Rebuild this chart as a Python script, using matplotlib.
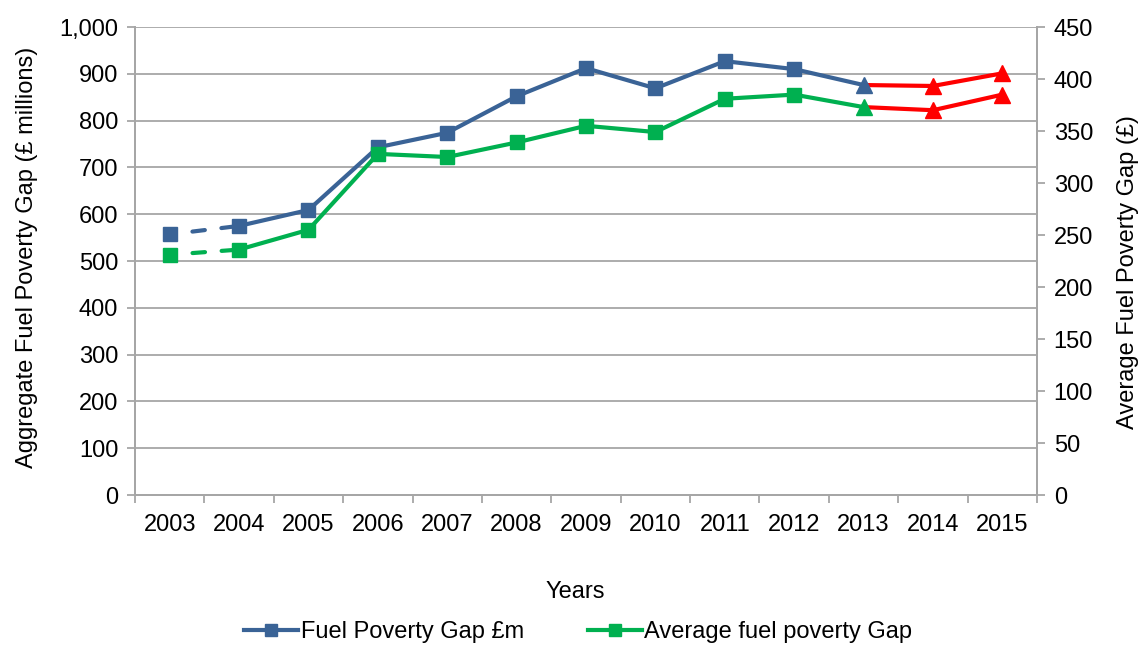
import numpy as np
import matplotlib.pyplot as plt
from matplotlib.lines import Line2D

plt.rcParams['font.family'] = ['Liberation Sans', 'DejaVu Sans']

years = ['2003', '2004', '2005', '2006', '2007', '2008', '2009',
         '2010', '2011', '2012', '2013', '2014', '2015']
# aggregate gap, £ millions (left axis)
gap_total = [557, 575, 609, 743, 774, 852, 912, 869, 927, 910, 876, 874, 901]
# average gap per household, £ (right axis)
gap_avg = [231, 236, 255, 328, 325, 339, 355, 349, 381, 385, 373, 370, 385]

BLUE = '#3A6396'
GREEN = '#00B050'
RED = '#FF0000'
GRID = '#A6A6A6'
FS = 17

x = np.arange(len(years))

fig = plt.figure(figsize=(11.45, 6.46), dpi=100)
ax = fig.add_axes([0.1179, 0.2337, 0.7878, 0.7245])
ax2 = ax.twinx()


def draw(a, vals, col):
    lw, ms = 3.0, 10
    # dashed start (2003-2004)
    a.plot(x[:2], vals[:2], color=col, lw=lw, ls=(1.5, (3, 4)),
           dash_capstyle='round', zorder=3)
    a.plot(x[1:11], vals[1:11], color=col, lw=lw, zorder=3)
    a.plot(x[:10], vals[:10], ls='none', marker='s', ms=ms, color=col, zorder=4)
    # projection years in red
    a.plot(x[10:], vals[10:], color=RED, lw=lw, zorder=3)
    a.plot(x[11:], vals[11:], ls='none', marker='^', ms=ms + 1, color=RED, zorder=4)
    a.plot(x[10:11], vals[10:11], ls='none', marker='^', ms=ms + 1, color=col, zorder=5)


draw(ax, gap_total, BLUE)
draw(ax2, gap_avg, GREEN)

ax.set_xlim(-0.5, len(years) - 0.5)
ax.set_ylim(0, 1000)
ax2.set_ylim(0, 450)
ax.set_yticks(np.arange(0, 1001, 100))
ax.set_yticklabels([f'{v:,}' for v in range(0, 1001, 100)])
ax2.set_yticks(np.arange(0, 451, 50))

ax.set_xticks(x)
ax.set_xticklabels(years)
ax.set_xticks(np.arange(-0.5, len(years), 1), minor=True)
ax.tick_params(axis='x', which='major', length=0, pad=14, labelsize=FS)
ax.tick_params(axis='x', which='minor', length=6, color=GRID, width=1.3)
ax.tick_params(axis='y', length=6, color=GRID, width=1.3, labelsize=FS, pad=6)
ax2.tick_params(axis='y', length=6, color=GRID, width=1.3, labelsize=FS, pad=6)

ax.grid(axis='y', color=GRID, lw=1.3)
ax.set_axisbelow(True)
for a in (ax, ax2):
    a.spines['top'].set_visible(False)
    for s in ('left', 'right', 'bottom'):
        a.spines[s].set_color(GRID)
        a.spines[s].set_linewidth(1.3)

ax.set_ylabel('Aggregate Fuel Poverty Gap (£ millions)', fontsize=FS)
ax2.set_ylabel('Average Fuel Poverty Gap (£)', fontsize=FS)
ax.set_xlabel('Years', fontsize=FS)
ax.yaxis.set_label_coords(27 / 1145, 1 - 257 / 646, transform=fig.transFigure)
ax2.yaxis.set_label_coords(1128 / 1145, 1 - 272 / 646, transform=fig.transFigure)
ax.xaxis.set_label_coords(575 / 1145, 1 - 592 / 646, transform=fig.transFigure)
ax.xaxis.label.set_va('center')
ax.yaxis.label.set_va('center')
ax2.yaxis.label.set_va('center')

handles = [Line2D([], [], color=BLUE, lw=3, marker='s', ms=9),
           Line2D([], [], color=GREEN, lw=3, marker='s', ms=9)]
fig.legend(handles, ['Fuel Poverty Gap £m', 'Average fuel poverty Gap'],
           loc='center', bbox_to_anchor=(0.505, 0.022), ncol=2, frameon=False,
           fontsize=FS, handlelength=2.3, handletextpad=0.1, columnspacing=2.7,
           borderaxespad=0)

fig.savefig('out.png', dpi=100)
